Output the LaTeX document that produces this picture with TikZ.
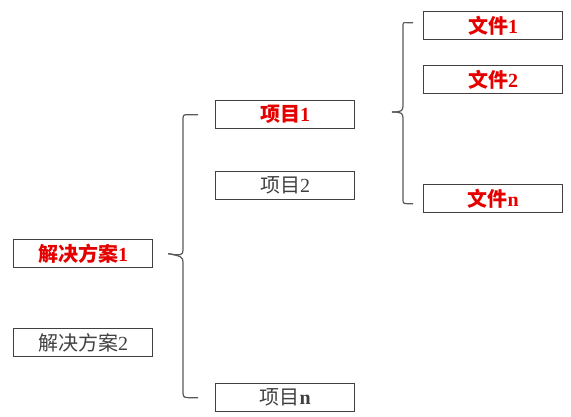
\documentclass[tikz,border=0pt]{standalone}
\usepackage{fontspec}
\usetikzlibrary{calc}
\setmainfont{Liberation Serif}
\newfontfamily\cjk{Noto Sans CJK SC}
\begin{document}
\begin{tikzpicture}[x=1pt,y=-1pt,
  box/.style={draw=black!75,line width=1.3pt,minimum width=139pt,minimum height=28pt,inner sep=0pt,anchor=north west,text=black!75,font=\fontsize{20}{20}\selectfont},
  hot/.style={text=red!90!black,font=\fontsize{20}{20}\selectfont\bfseries},
  brace/.style={draw=black!65,line width=1.2pt}]
\useasboundingbox (0,0) rectangle (571,416);
\node[box,hot] (s1) at (13,239) {{\cjk\bfseries 解决方案}1};
\node[box] (s2) at (13,328) {{\cjk 解决方案}2};
\node[box,hot] (p1) at (215,100) {{\cjk\bfseries 项目}1};
\node[box] (p2) at (215,171) {{\cjk 项目}2};
\node[box] (pn) at (215,383) {{\cjk 项目}\textbf{n}};
\node[box,hot] (f1) at (423,11) {{\cjk\bfseries 文件}1};
\node[box,hot] (f2) at (423,65) {{\cjk\bfseries 文件}2};
\node[box,hot] (fn) at (423,184) {{\cjk\bfseries 文件}n};
% brace 1
\coordinate (b1tip) at ($(s1.east)+(15,0)$);
\coordinate (b1top) at ($(p1.west)+(-17,0)$);
\coordinate (b1bot) at ($(pn.west)+(-17,0)$);
\draw[brace] (b1top) -- ++(-10,0) .. controls +(-5,0) and (183,115) .. (183,121) -- (183,250) .. controls (183,255) and (181,256) .. (b1tip);
\draw[brace] (b1bot) -- ++(-10,0) .. controls +(-5,0) and (183,396) .. (183,390) -- (183,262) .. controls (183,257) and (181,256) .. (b1tip);
% brace 2
\coordinate (b2tip) at (392,112);
\coordinate (b2top) at ($(f1.west)+(-10,-3)$);
\coordinate (b2bot) at ($(fn.west)+(-10,5)$);
\draw[brace] (b2top) -- ++(-6,0) .. controls +(-4,0) and (403,22) .. (403,27) -- (403,106) .. controls (403,111) and (401,112) .. (b2tip);
\draw[brace] (b2bot) -- ++(-6,0) .. controls +(-4,0) and (403,203) .. (403,198) -- (403,118) .. controls (403,113) and (401,112) .. (b2tip);
\end{tikzpicture}
\end{document}
